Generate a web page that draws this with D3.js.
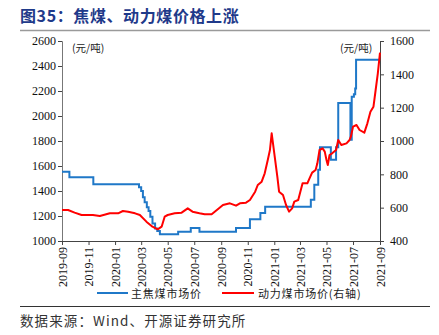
<!DOCTYPE html>
<html>
<head>
<meta charset="utf-8">
<script src="https://cdn.jsdelivr.net/npm/d3@7"></script>
<style>
  body { margin: 0; background: #fff; }
  svg { display: block; }
</style>
</head>
<body>
<svg id="chart" width="439" height="335"></svg>
<script>
// 主焦煤市场价 (元/吨, 左轴) — step series, value holds from each date
const cokingDates = [
  "2019-09-01","2019-09-18","2019-11-12","2020-02-25","2020-03-01","2020-03-05",
  "2020-03-09","2020-03-14","2020-03-18","2020-03-22","2020-03-27","2020-04-02",
  "2020-04-07","2020-04-13","2020-05-25","2020-06-23","2020-07-13","2020-10-05",
  "2020-11-06","2020-11-30","2020-12-11","2021-03-26","2021-04-03","2021-04-12",
  "2021-04-16","2021-05-11","2021-05-23","2021-05-28","2021-06-25","2021-06-28",
  "2021-07-03","2021-07-06","2021-07-08","2021-09-01"
];
const cokingPrices = [
  1555, 1510, 1455, 1430, 1400, 1350,
  1310, 1270, 1240, 1195, 1140, 1100,
  1080, 1055, 1075, 1105, 1075, 1105,
  1175, 1225, 1275, 1330, 1450, 1570,
  1750, 1650, 1750, 2105, 1810, 2155,
  2175, 2220, 2450, 2450
];

// 动力煤市场价 (元/吨, 右轴)
const thermalDates = [
  "2019-09-01","2019-09-15","2019-09-30","2019-10-16","2019-11-11","2019-11-27",
  "2019-12-20","2020-01-08","2020-01-19","2020-01-31","2020-02-16","2020-02-27",
  "2020-03-13","2020-03-27","2020-04-08","2020-04-17","2020-04-24","2020-05-01",
  "2020-05-17","2020-06-02","2020-06-16","2020-06-27","2020-07-13","2020-07-25",
  "2020-08-10","2020-08-22","2020-09-05","2020-09-21","2020-10-05","2020-10-14",
  "2020-10-28","2020-11-06","2020-11-18","2020-11-24","2020-12-03","2020-12-10",
  "2020-12-17","2020-12-22","2020-12-26","2021-01-01","2021-01-08","2021-01-12",
  "2021-01-21","2021-01-28","2021-02-04","2021-02-11","2021-02-16","2021-02-25",
  "2021-03-07","2021-03-18","2021-03-23","2021-03-29","2021-04-06","2021-04-10",
  "2021-04-15","2021-04-22","2021-04-27","2021-05-01","2021-05-04","2021-05-08",
  "2021-05-14","2021-05-23","2021-05-28","2021-06-04","2021-06-16","2021-06-23",
  "2021-06-26","2021-07-01","2021-07-09","2021-07-16","2021-07-27","2021-08-03",
  "2021-08-10","2021-08-17","2021-08-22","2021-08-27","2021-09-01"
];
const thermalPrices = [
  586, 586, 570, 556, 556, 550,
  566, 566, 580, 576, 566, 556,
  516, 486, 470, 486, 546, 556,
  566, 570, 596, 576, 566, 560,
  560, 586, 616, 626, 612, 626,
  630, 646, 696, 736, 756, 806,
  886, 946, 1046, 926, 786, 696,
  676, 616, 576, 596, 636, 646,
  746, 746, 776, 810, 826, 866,
  946, 956, 936, 886, 856, 916,
  926, 946, 1006, 976, 986, 1006,
  1026, 1086, 1096, 1066, 1050, 1106,
  1176, 1206, 1306, 1406, 1530
];

const leftTicks = [1000, 1200, 1400, 1600, 1800, 2000, 2200, 2400, 2600];
const rightTicks = [400, 600, 800, 1000, 1200, 1400, 1600];
const monthTicks = ["2019-09","2019-11","2020-01","2020-03","2020-05","2020-07",
                    "2020-09","2020-11","2021-01","2021-03","2021-05","2021-07","2021-09"];

const titleText = "图35：焦煤、动力煤价格上涨";
const unitText = "(元/吨)";
const legendNames = ["主焦煤市场价", "动力煤市场价(右轴)"];
const sourceText = "数据来源：Wind、开源证券研究所";

const BLUE = "#1f78c8";
const RED = "#ff0000";
const serif = "'Liberation Serif', 'Times New Roman', serif";
const cjk = "'Noto Sans CJK SC', sans-serif";

const svg = d3.select("#chart");
const parse = d3.timeParse("%Y-%m-%d");
const parseMonth = d3.timeParse("%Y-%m");

const plot = { left: 62, right: 380, top: 41, bottom: 241 };

const x = d3.scaleTime()
  .domain([parse("2019-09-01"), parse("2021-09-01")])
  .range([plot.left, plot.right]);
const yL = d3.scaleLinear().domain([1000, 2600]).range([plot.bottom, plot.top]);
const yR = d3.scaleLinear().domain([400, 1600]).range([plot.bottom, plot.top]);

// header
svg.append("text")
  .attr("x", 20).attr("y", 22)
  .attr("font-family", cjk).attr("font-weight", "bold")
  .attr("font-size", 16).attr("letter-spacing", 0.6).attr("fill", "#1f3a8a")
  .text(titleText);
svg.append("line")
  .attr("x1", 20).attr("x2", 430).attr("y1", 30.5).attr("y2", 30.5)
  .attr("stroke", "#9a9a9a").attr("stroke-width", 1.5);

// axes
const leftAxis = svg.append("g")
  .attr("transform", `translate(${plot.left},0)`)
  .call(d3.axisLeft(yL).tickValues(leftTicks).tickSize(4).tickFormat(d3.format("d")));
const rightAxis = svg.append("g")
  .attr("transform", `translate(${plot.right},0)`)
  .call(d3.axisRight(yR).tickValues(rightTicks).tickSize(4).tickFormat(d3.format("d")));
const bottomAxis = svg.append("g")
  .attr("transform", `translate(0,${plot.bottom})`)
  .call(d3.axisBottom(x).tickValues(monthTicks.map(parseMonth)).tickSize(4)
    .tickFormat(d3.timeFormat("%Y-%m")));

[leftAxis, rightAxis, bottomAxis].forEach(g => {
  g.selectAll("path.domain").attr("stroke", "#444").attr("stroke-width", 1);
  g.selectAll(".tick line").attr("stroke", "#444");
  g.selectAll("text").attr("font-family", serif).attr("font-size", 12).attr("fill", "#111");
});
leftAxis.select("path.domain").attr("stroke", "#777");
leftAxis.selectAll("text").attr("x", -6);
rightAxis.selectAll("text").attr("x", 10);
bottomAxis.selectAll("text")
  .attr("transform", "rotate(-90)")
  .attr("text-anchor", "end")
  .attr("x", -6).attr("y", 0).attr("dy", "0.35em");

// unit labels
svg.append("text").attr("x", 72).attr("y", 52)
  .attr("font-family", cjk).attr("font-size", 10.5).attr("fill", "#222").text(unitText);
svg.append("text").attr("x", 340).attr("y", 52)
  .attr("font-family", cjk).attr("font-size", 10.5).attr("fill", "#222").text(unitText);

// series
const coking = cokingDates.map((d, i) => ({ date: parse(d), value: cokingPrices[i] }));
const thermal = thermalDates.map((d, i) => ({ date: parse(d), value: thermalPrices[i] }));

svg.append("path")
  .datum(coking)
  .attr("fill", "none").attr("stroke", BLUE).attr("stroke-width", 2)
  .attr("d", d3.line().x(d => x(d.date)).y(d => yL(d.value)).curve(d3.curveStepAfter));

svg.append("path")
  .datum(thermal)
  .attr("fill", "none").attr("stroke", RED).attr("stroke-width", 2)
  .attr("stroke-linejoin", "round")
  .attr("d", d3.line().x(d => x(d.date)).y(d => yR(d.value)));

// legend
const legend = [
  { name: legendNames[0], color: BLUE, x1: 97, x2: 128, tx: 131 },
  { name: legendNames[1], color: RED, x1: 222, x2: 254, tx: 258 }
];
const lg = svg.append("g");
legend.forEach(l => {
  lg.append("line").attr("x1", l.x1).attr("x2", l.x2).attr("y1", 293).attr("y2", 293)
    .attr("stroke", l.color).attr("stroke-width", 2);
  lg.append("text").attr("x", l.tx).attr("y", 297.5)
    .attr("font-family", cjk).attr("font-size", 11).attr("letter-spacing", 0.8)
    .attr("fill", "#222").text(l.name);
});

// footer
svg.append("line")
  .attr("x1", 20).attr("x2", 430).attr("y1", 306.5).attr("y2", 306.5)
  .attr("stroke", "#333").attr("stroke-width", 1);
svg.append("text").attr("x", 20).attr("y", 326)
  .attr("font-family", cjk).attr("font-size", 13.5).attr("letter-spacing", 1.1)
  .attr("fill", "#333")
  .text(sourceText);
</script>
</body>
</html>
